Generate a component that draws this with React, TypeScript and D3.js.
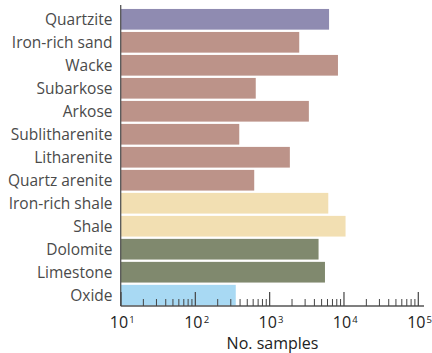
import React from "react";
import * as d3 from "d3";

const categories = [
  "Quartzite",
  "Iron-rich sand",
  "Wacke",
  "Subarkose",
  "Arkose",
  "Sublitharenite",
  "Litharenite",
  "Quartz arenite",
  "Iron-rich shale",
  "Shale",
  "Dolomite",
  "Limestone",
  "Oxide",
];
const samples = [6300, 2500, 8300, 650, 3370, 390, 1870, 620, 6150, 10500, 4550, 5550, 350];
const groups = ["q", "s", "s", "s", "s", "s", "s", "s", "h", "h", "c", "c", "o"];
const groupColors: Record<string, string> = {
  q: "#8f8bb1",
  s: "#bc9389",
  h: "#f2dfb2",
  c: "#80896e",
  o: "#a8d9f3",
};
const tickExponents = [1, 2, 3, 4, 5];
const xTitle = "No. samples";

export default function App() {
  const W = 432;
  const H = 353;
  const axisX = 120.7;
  const axisY = 306;
  const x = d3.scaleLog().domain([10, 1e5]).range([121, 418.3]);
  const y = d3.scaleBand<string>().domain(categories).range([8.5, 306]).paddingInner(0.1).paddingOuter(0.02);

  const minorTicks: number[] = [];
  for (let e = 1; e < 5; e++) {
    for (let m = 2; m <= 9; m++) minorTicks.push(m * Math.pow(10, e));
  }
  const font = "'Open Sans', sans-serif";

  return (
    <svg width={W} height={H} style={{ position: "absolute", left: 0, top: 0 }}>
      <rect width={W} height={H} fill="#fff" />
      {categories.map((c, i) => (
        <rect
          key={c}
          x={axisX}
          y={y(c)!}
          width={x(samples[i]) - axisX}
          height={y.bandwidth()}
          fill={groupColors[groups[i]]}
        />
      ))}
      {categories.map((c) => (
        <text
          key={"l" + c}
          x={112.5}
          y={y(c)! + y.bandwidth() / 2 + 6}
          textAnchor="end"
          fontFamily={font}
          fontSize={15.5}
          fill="#4a4a4a"
        >
          {c}
        </text>
      ))}
      <line x1={axisX} x2={axisX} y1={5} y2={axisY} stroke="#555" strokeWidth={1.3} />
      <line x1={axisX} x2={424} y1={axisY} y2={axisY} stroke="#555" strokeWidth={1.3} />
      {minorTicks.map((t) => (
        <line key={"m" + t} x1={x(t)} x2={x(t)} y1={axisY} y2={axisY - 7} stroke="#444" strokeWidth={1} />
      ))}
      {tickExponents.map((e) => (
        <line
          key={"M" + e}
          x1={x(Math.pow(10, e))}
          x2={x(Math.pow(10, e))}
          y1={axisY}
          y2={axisY - 14}
          stroke="#444"
          strokeWidth={1.2}
        />
      ))}
      {tickExponents.map((e) => (
        <g key={"t" + e}>
          <text
            x={x(Math.pow(10, e)) - 2}
            y={328.3}
            textAnchor="middle"
            fontFamily={font}
            fontSize={16}
            fill="#222"
          >
            10
          </text>
          <text
            x={x(Math.pow(10, e)) + 8.3}
            y={322.5}
            textAnchor="start"
            fontFamily={font}
            fontSize={9.5}
            fill="#222"
          >
            {e}
          </text>
        </g>
      ))}
      <text x={272.5} y={348.5} textAnchor="middle" fontFamily={font} fontSize={16} fill="#222">
        {xTitle}
      </text>
    </svg>
  );
}
